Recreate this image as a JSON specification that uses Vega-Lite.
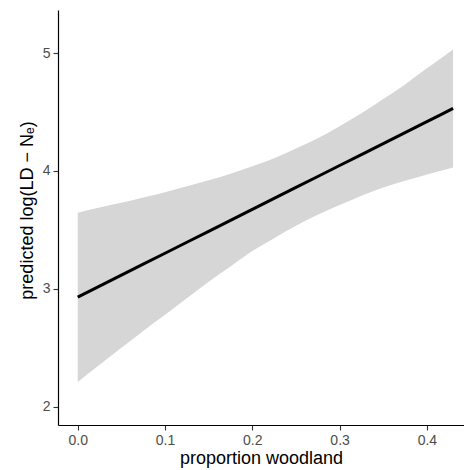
{
  "$schema": "https://vega.github.io/schema/vega-lite/v6.json",
  "autosize": {"type": "none"},
  "padding": {"left": 58, "top": 10, "right": 0, "bottom": 45},
  "width": 406,
  "height": 415,
  "config": {
    "view": {"stroke": null},
    "font": "Liberation Sans",
    "axis": {
      "grid": false,
      "domainColor": "#000000",
      "domainWidth": 1.2,
      "tickColor": "#333333",
      "tickSize": 5,
      "tickWidth": 1.1,
      "labelColor": "#4d4d4d",
      "labelFontSize": 14,
      "labelFont": "Liberation Sans",
      "titleFont": "Liberation Sans",
      "titleFontSize": 18,
      "titleFontWeight": "normal",
      "titleColor": "#000000"
    }
  },
  "data": {
    "values": [
      {"x": 0.000, "lo": 2.21, "fit": 2.930, "hi": 3.645},
      {"x": 0.025, "lo": 2.356, "fit": 3.023, "hi": 3.690},
      {"x": 0.050, "lo": 2.50, "fit": 3.116, "hi": 3.73},
      {"x": 0.075, "lo": 2.643, "fit": 3.209, "hi": 3.775},
      {"x": 0.100, "lo": 2.78, "fit": 3.302, "hi": 3.82},
      {"x": 0.125, "lo": 2.92, "fit": 3.395, "hi": 3.87},
      {"x": 0.150, "lo": 3.06, "fit": 3.488, "hi": 3.92},
      {"x": 0.175, "lo": 3.19, "fit": 3.581, "hi": 3.976},
      {"x": 0.200, "lo": 3.32, "fit": 3.674, "hi": 4.04},
      {"x": 0.225, "lo": 3.43, "fit": 3.767, "hi": 4.108},
      {"x": 0.250, "lo": 3.535, "fit": 3.860, "hi": 4.19},
      {"x": 0.275, "lo": 3.629, "fit": 3.953, "hi": 4.277},
      {"x": 0.300, "lo": 3.71, "fit": 4.046, "hi": 4.38},
      {"x": 0.325, "lo": 3.79, "fit": 4.139, "hi": 4.49},
      {"x": 0.350, "lo": 3.86, "fit": 4.232, "hi": 4.61},
      {"x": 0.375, "lo": 3.916, "fit": 4.325, "hi": 4.734},
      {"x": 0.400, "lo": 3.97, "fit": 4.418, "hi": 4.87},
      {"x": 0.415, "lo": 4.00, "fit": 4.474, "hi": 4.95},
      {"x": 0.430, "lo": 4.03, "fit": 4.530, "hi": 5.03}
    ]
  },
  "encoding": {
    "x": {
      "field": "x",
      "type": "quantitative",
      "scale": {"domain": [-0.0226, 0.4425], "nice": false, "zero": false},
      "axis": {
        "title": "proportion woodland",
        "values": [0, 0.1, 0.2, 0.3, 0.4],
        "format": ".1f",
        "labelPadding": 3,
        "titlePadding": 2
      }
    }
  },
  "layer": [
    {
      "mark": {"type": "area", "color": "#d6d6d6", "opacity": 1, "interpolate": "monotone"},
      "encoding": {
        "y": {
          "field": "lo",
          "type": "quantitative",
          "scale": {"domain": [1.845, 5.365], "nice": false, "zero": false},
          "axis": {
            "title": "predicted log(LD − Nₑ)",
            "values": [2, 3, 4, 5],
            "format": "d",
            "labelPadding": 3,
            "titlePadding": 6,
            "titleY": 200
          }
        },
        "y2": {"field": "hi"}
      }
    },
    {
      "mark": {"type": "line", "color": "#000000", "strokeWidth": 3},
      "encoding": {
        "y": {"field": "fit", "type": "quantitative"}
      }
    }
  ]
}
